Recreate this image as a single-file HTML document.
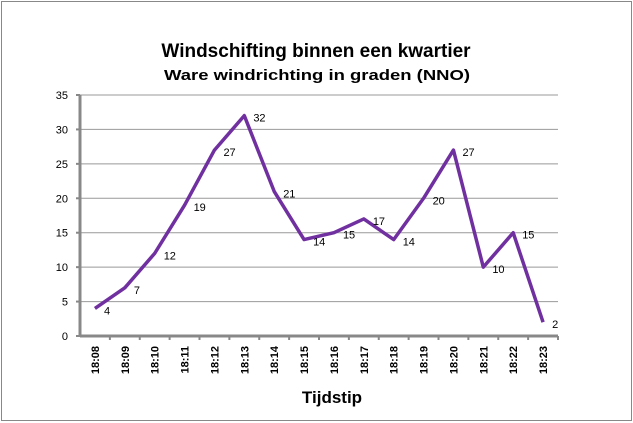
<!DOCTYPE html>
<html><head><meta charset="utf-8"><style>
html,body{margin:0;padding:0;background:#fff;}
svg{display:block;font-family:"Liberation Sans",sans-serif;}
</style></head><body>
<svg width="633" height="423">
<rect x="1.5" y="1.5" width="630" height="419" fill="#fff" stroke="#888"/>
<text x="316" y="57" text-anchor="middle" font-size="19" font-weight="bold" fill="#000">Windschifting binnen een kwartier</text>
<text x="317" y="80" text-anchor="middle" font-size="15" font-weight="bold" textLength="306" lengthAdjust="spacingAndGlyphs" fill="#000">Ware windrichting in graden (NNO)</text>
<text x="332" y="403" text-anchor="middle" font-size="17" font-weight="bold" fill="#000">Tijdstip</text>
<g id="plot"></g>
</svg>
<script>
const categories=["18:08","18:09","18:10","18:11","18:12","18:13","18:14","18:15","18:16","18:17","18:18","18:19","18:20","18:21","18:22","18:23"];
const values=[4,7,12,19,27,32,21,14,15,17,14,20,27,10,15,2];
const yTicks=[0,5,10,15,20,25,30,35];
const L=80,R=558,T=95,B=336,yMax=35;
const step=(R-L)/categories.length;
const xs=i=>L+(i+0.5)*step;
const ys=v=>B-(v/yMax)*(B-T);
const NS="http://www.w3.org/2000/svg";
const g=document.getElementById('plot');
function mk(t,a){const e=document.createElementNS(NS,t);for(const k in a)e.setAttribute(k,a[k]);g.appendChild(e);return e;}
yTicks.forEach(t=>{
  if(t>0){const l=mk('line',{x1:L,x2:R,y1:ys(t),y2:ys(t),stroke:'#999','stroke-width':1});
  
  }
  const tk=mk('line',{x1:L-4,x2:L,y1:ys(t),y2:ys(t),stroke:'#888','stroke-width':2});
  
  
  const tx=mk('text',{x:L-12,y:ys(t)+4,'text-anchor':'end','font-size':11,fill:'#000'});
  tx.textContent=t;
  
  
});
const ya=mk('line',{x1:L,x2:L,y1:T,y2:B,stroke:'#888','stroke-width':3});


const xa=mk('line',{x1:L,x2:R,y1:B,y2:B,stroke:'#888','stroke-width':3});


categories.forEach((c,i)=>{
  const tk=mk('line',{x1:L+(i+1)*step,x2:L+(i+1)*step,y1:B,y2:B+4,stroke:'#888','stroke-width':2});
  
  
  const x=xs(i)+4,y=B+10;
  const tx=mk('text',{x:x,y:y,'text-anchor':'end','font-size':11,'font-weight':'bold',fill:'#000',transform:`rotate(-90 ${x} ${y})`});
  tx.textContent=c;
  
  
});
const pl=mk('polyline',{points:values.map((v,i)=>xs(i)+','+ys(v)).join(' '),fill:'none',stroke:'#7030a0','stroke-width':3.5,'stroke-linejoin':'round'});


values.forEach((v,i)=>{
  const tx=mk('text',{x:xs(i)+9,y:ys(v)+6,'font-size':11,fill:'#000'});
  tx.textContent=v;
  
  
});
</script>
</body></html>
